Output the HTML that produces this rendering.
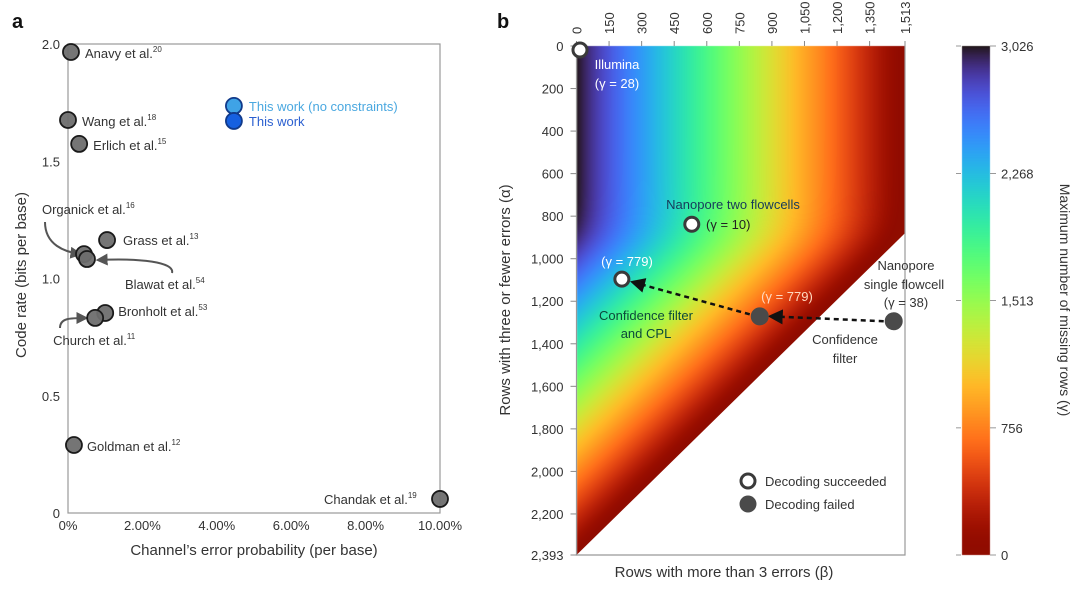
<!DOCTYPE html>
<html><head><meta charset="utf-8">
<style>
body{margin:0;background:#fff;width:1080px;height:590px;overflow:hidden;font-family:"Liberation Sans",sans-serif;}
#wrap{position:relative;width:1080px;height:590px;}
canvas{position:absolute;left:0;top:0;}
svg{position:absolute;left:0;top:0;}
text{font-family:"Liberation Sans",sans-serif;font-size:13px;fill:#333;}
</style></head>
<body>
<div id="wrap">
<canvas id="cv" width="1080" height="590"></canvas>
<svg id="sv" width="1080" height="590" xmlns="http://www.w3.org/2000/svg">
<defs>
<marker id="ah" viewBox="0 0 10 10" refX="8" refY="5" markerWidth="6" markerHeight="6" orient="auto"><path d="M0,0L10,5L0,10z" fill="#111"/></marker>
<marker id="ahg" viewBox="0 0 10 10" refX="8" refY="5" markerWidth="6" markerHeight="6" orient="auto"><path d="M0,0L10,5L0,10z" fill="#555"/></marker>
</defs>
</svg>
</div>
<script>
// ---------- Panel a data ----------
const aNames = ["Anavy et al.","Wang et al.","Erlich et al.","Grass et al.","Organick et al.","Blawat et al.","Bronholt et al.","Church et al.","Goldman et al.","Chandak et al."];
const aRefs = ["20","18","15","13","16","54","53","11","12","19"];
const aErr = [0.08,0.0,0.3,1.05,0.43,0.51,1.0,0.73,0.16,10.0];
const aRate = [1.966,1.676,1.574,1.164,1.104,1.083,0.853,0.832,0.29,0.06];
const workNames = ["This work (no constraints)","This work"];
const workErr = [4.46,4.46];
const workRate = [1.736,1.672];
const aXTicks = [0,2,4,6,8,10];
const aXTickLabels = ["0%","2.00%","4.00%","6.00%","8.00%","10.00%"];
const aYTicks = [0,0.5,1.0,1.5,2.0];
const aYTickLabels = ["0","0.5","1.0","1.5","2.0"];

// ---------- Panel b data ----------
const bXTicks = [0,150,300,450,600,750,900,1050,1200,1350,1513];
const bXTickLabels = ["0","150","300","450","600","750","900","1,050","1,200","1,350","1,513"];
const bYTicks = [0,200,400,600,800,1000,1200,1400,1600,1800,2000,2200,2393];
const bYTickLabels = ["0","200","400","600","800","1,000","1,200","1,400","1,600","1,800","2,000","2,200","2,393"];
const cbTicks = [0,756,1513,2268,3026];
const cbTickLabels = ["0","756","1,513","2,268","3,026"];
const ptBeta = [16,531,209,844,1461];
const ptAlpha = [19,838,1096,1271,1294];
const ptSuccess = [true,true,true,false,false];
const gammaMax = 3026, alphaMax = 2393, betaMax = 1513;

const NS="http://www.w3.org/2000/svg";
const sv=document.getElementById('sv');
function el(tag,attrs,txt){const e=document.createElementNS(NS,tag);for(const k in attrs)e.setAttribute(k,attrs[k]);if(txt!==undefined)e.textContent=txt;sv.appendChild(e);return e;}

// ---------- Panel a axes ----------
const aL=68,aR=440,aT=44,aB=513;
const ax=v=>aL+(v/10)*(aR-aL);
const ay=v=>aB-(v/2)*(aB-aT);
let e;
e=el('text',{x:12,y:28,style:'font-size:20px;font-weight:bold;fill:#111'},'a');


e=el('rect',{x:aL,y:aT,width:aR-aL,height:aB-aT,fill:'none',stroke:'#999','stroke-width':1.2});


aXTicks.forEach((t,i)=>{
  e=el('text',{x:ax(t),y:530,'text-anchor':'middle'},aXTickLabels[i]);
  
  
});
aYTicks.forEach((t,i)=>{
  e=el('text',{x:60,y:ay(t)+5,'text-anchor':'end'},aYTickLabels[i]);
  
  
});
e=el('text',{x:254,y:555,'text-anchor':'middle',style:'font-size:15px'},"Channel\u2019s error probability (per base)");


e=el('text',{x:0,y:0,'text-anchor':'middle',transform:'translate(26,275) rotate(-90)',style:'font-size:15px'},"Code rate (bits per base)");



e=el('path',{d:'M45,222 C45,245 65,252 80,254',fill:'none',stroke:'#555','stroke-width':2,'marker-end':'url(#ahg)'});


e=el('path',{d:'M172,273 C175,262 140,258 98,260',fill:'none',stroke:'#555','stroke-width':2,'marker-end':'url(#ahg)'});


e=el('path',{d:'M60,328 C60,318 70,318 86,318',fill:'none',stroke:'#555','stroke-width':2,'marker-end':'url(#ahg)'});



const aLabelPos = {
 "Anavy et al.":[14,6],"Wang et al.":[14,6],"Erlich et al.":[14,6],"Grass et al.":[16,5],
 "Organick et al.":[-42,-40],"Blawat et al.":[38,30],"Bronholt et al.":[13,3],"Church et al.":[-42,27],
 "Goldman et al.":[13,6],"Chandak et al.":[-116,5]};
aErr.forEach((v,i)=>{
  e=el('circle',{cx:ax(v),cy:ay(aRate[i]),r:8,fill:'#6e6e6e',stroke:'#1a1a1a','stroke-width':1.8,'fill-opacity':0.95});
  
  
});
aErr.forEach((v,i)=>{
  const p=aLabelPos[aNames[i]];
  e=el('text',{x:ax(v)+p[0],y:ay(aRate[i])+p[1]});
  
  
  const t1=document.createElementNS(NS,'tspan');t1.textContent=aNames[i];e.appendChild(t1);
  const t2=document.createElementNS(NS,'tspan');t2.setAttribute('dy','-6');t2.setAttribute('style','font-size:8px');t2.textContent=aRefs[i];e.appendChild(t2);
});
const workFill=['#3fa3e6','#1660e0'];
const workText=['#4aa8e0','#2a5fd0'];
workErr.forEach((v,i)=>{
  e=el('circle',{cx:ax(v),cy:ay(workRate[i]),r:8,fill:workFill[i],stroke:'#113a8a','stroke-width':1.8});
  
  
});
workErr.forEach((v,i)=>{
  e=el('text',{x:ax(v)+15,y:ay(workRate[i])+5,style:'fill:'+workText[i]},workNames[i]);
  
  
});

// ---------- Panel b ----------
const bL=576.5,bR=905,bT=46,bB=555;
const bx=v=>bL+(v/betaMax)*(bR-bL);
const by=v=>bT+(v/alphaMax)*(bB-bT);
function turbo(t){t=Math.max(0,Math.min(1,t));
 const r=0.13572138+t*(4.61539260+t*(-42.66032258+t*(132.13108234+t*(-152.94239396+t*59.28637943))));
 const g=0.09140261+t*(2.19418839+t*(4.84296658+t*(-14.18503333+t*(4.27729857+t*2.82956604))));
 const b=0.10667330+t*(12.64194608+t*(-60.58204836+t*(110.36276771+t*(-89.90310912+t*27.34824973))));
 return [r,g,b].map(c=>Math.round(255*Math.max(0,Math.min(1,c))));}
function softmin(a,b,k){const m=Math.min(a,b);return m-k*Math.log(Math.exp((m-a)/k)+Math.exp((m-b)/k));}
const cv=document.getElementById('cv');const ctx=cv.getContext('2d');
const img=ctx.createImageData(1080,590);
for(let py=Math.floor(bT);py<bB;py++){
 for(let px=Math.ceil(bL);px<bR;px++){
  const beta=(px-bL)/(bR-bL)*betaMax, alpha=(py-bT)/(bB-bT)*alphaMax;
  const g=Math.max(0,softmin(gammaMax-2*beta, 2*(alphaMax-alpha-beta),110));
  const c=turbo(1-g/gammaMax);
  const k=(py*1080+px)*4;img.data[k]=c[0];img.data[k+1]=c[1];img.data[k+2]=c[2];img.data[k+3]=255;
 }
}
const cbL=962,cbR=990;
const cy=v=>bB-(v/gammaMax)*(bB-bT);
for(let py=Math.floor(bT);py<bB;py++){
 const g=(bB-py)/(bB-bT)*gammaMax;const c=turbo(1-g/gammaMax);
 for(let px=cbL;px<cbR;px++){const k=(py*1080+px)*4;img.data[k]=c[0];img.data[k+1]=c[1];img.data[k+2]=c[2];img.data[k+3]=255;}
}
ctx.putImageData(img,0,0);

// white cut-off region (alpha + beta > alphaMax)
e=el('polygon',{points:`${bx(0)},${by(alphaMax)} ${bx(betaMax)},${by(alphaMax-betaMax)} ${bx(betaMax)+1},${by(alphaMax-betaMax)} ${bx(betaMax)+1},${bB+1} ${bx(0)},${bB+1}`,fill:'#fff'});



e=el('text',{x:497,y:28,style:'font-size:20px;font-weight:bold;fill:#111'},'b');


e=el('path',{d:`M${bL},${bT}V${bB}H${bR}V${bT}`,fill:'none',stroke:'#999','stroke-width':1.2});


bXTicks.forEach((t,i)=>{
  e=el('line',{x1:bx(t),x2:bx(t),y1:bT-5,y2:bT,stroke:'#888'});
  
  
  e=el('text',{x:0,y:0,'text-anchor':'start',transform:`translate(${bx(t)+5},${bT-12}) rotate(-90)`},bXTickLabels[i]);
  
  
});
bYTicks.forEach((t,i)=>{
  e=el('line',{x1:bL-6,x2:bL,y1:by(t),y2:by(t),stroke:'#888'});
  
  
  e=el('text',{x:bL-13,y:by(t)+5,'text-anchor':'end'},bYTickLabels[i]);
  
  
});
e=el('text',{x:724,y:577,'text-anchor':'middle',style:'font-size:15px'},"Rows with more than 3 errors (\u03b2)");


e=el('text',{x:0,y:0,'text-anchor':'middle',transform:'translate(510,300) rotate(-90)',style:'font-size:15px'},"Rows with three or fewer errors (\u03b1)");


cbTicks.forEach((t,i)=>{
  e=el('line',{x1:cbL-6,x2:cbL-1,y1:cy(t),y2:cy(t),stroke:'#999'});
  
  
  e=el('line',{x1:cbR,x2:cbR+6,y1:cy(t),y2:cy(t),stroke:'#999'});
  
  
  e=el('text',{x:cbR+11,y:cy(t)+5},cbTickLabels[i]);
  
  
});
e=el('text',{x:0,y:0,'text-anchor':'middle',transform:'translate(1060,300) rotate(90)',style:'font-size:14px'},"Maximum number of missing rows (\u03b3)");



e=el('line',{x1:bx(ptBeta[4])-10,y1:by(ptAlpha[4]),x2:bx(ptBeta[3])+11,y2:by(ptAlpha[3]),stroke:'#111','stroke-width':2.5,'stroke-dasharray':'5,4','marker-end':'url(#ah)'});


e=el('line',{x1:bx(ptBeta[3])-10,y1:by(ptAlpha[3])-2,x2:bx(ptBeta[2])+11,y2:by(ptAlpha[2])+3,stroke:'#111','stroke-width':2.5,'stroke-dasharray':'5,4','marker-end':'url(#ah)'});



ptBeta.forEach((b,i)=>{
  const s=ptSuccess[i];
  e=el('circle',{cx:bx(b),cy:by(ptAlpha[i]),r:s?7:8.5,fill:s?'#fff':'#4a4a4a',stroke:s?'#3a3a3a':'#4a4a4a','stroke-width':s?3:1});
  
  
});
const ann=[
 ["Illumina",617,69,'#fff','middle'],["(\u03b3 = 28)",617,88,'#fff','middle'],
 ["Nanopore two flowcells",733,209,'#173a5a','middle'],["(\u03b3 = 10)",706,229,'#222','start'],
 ["(\u03b3 = 779)",627,266,'#fff','middle'],
 ["(\u03b3 = 779)",787,301,'#ffd9c0','middle'],
 ["Confidence filter",646,320,'#0b4a3a','middle'],["and CPL",646,338,'#0b4a3a','middle'],
 ["Nanopore",906,270,'#333','middle'],["single flowcell",904,289,'#333','middle'],["(\u03b3 = 38)",906,307,'#333','middle'],
 ["Confidence",845,344,'#333','middle'],["filter",845,363,'#333','middle']];
ann.forEach(a=>{
  e=el('text',{x:a[1],y:a[2],'text-anchor':a[4],style:'fill:'+a[3]},a[0]);
  
  
});
e=el('circle',{cx:748,cy:481,r:7,fill:'#fff',stroke:'#3a3a3a','stroke-width':3});


e=el('text',{x:765,y:486},'Decoding succeeded');


e=el('circle',{cx:748,cy:504,r:8.5,fill:'#4a4a4a'});


e=el('text',{x:765,y:509},'Decoding failed');


</script>
</body></html>
